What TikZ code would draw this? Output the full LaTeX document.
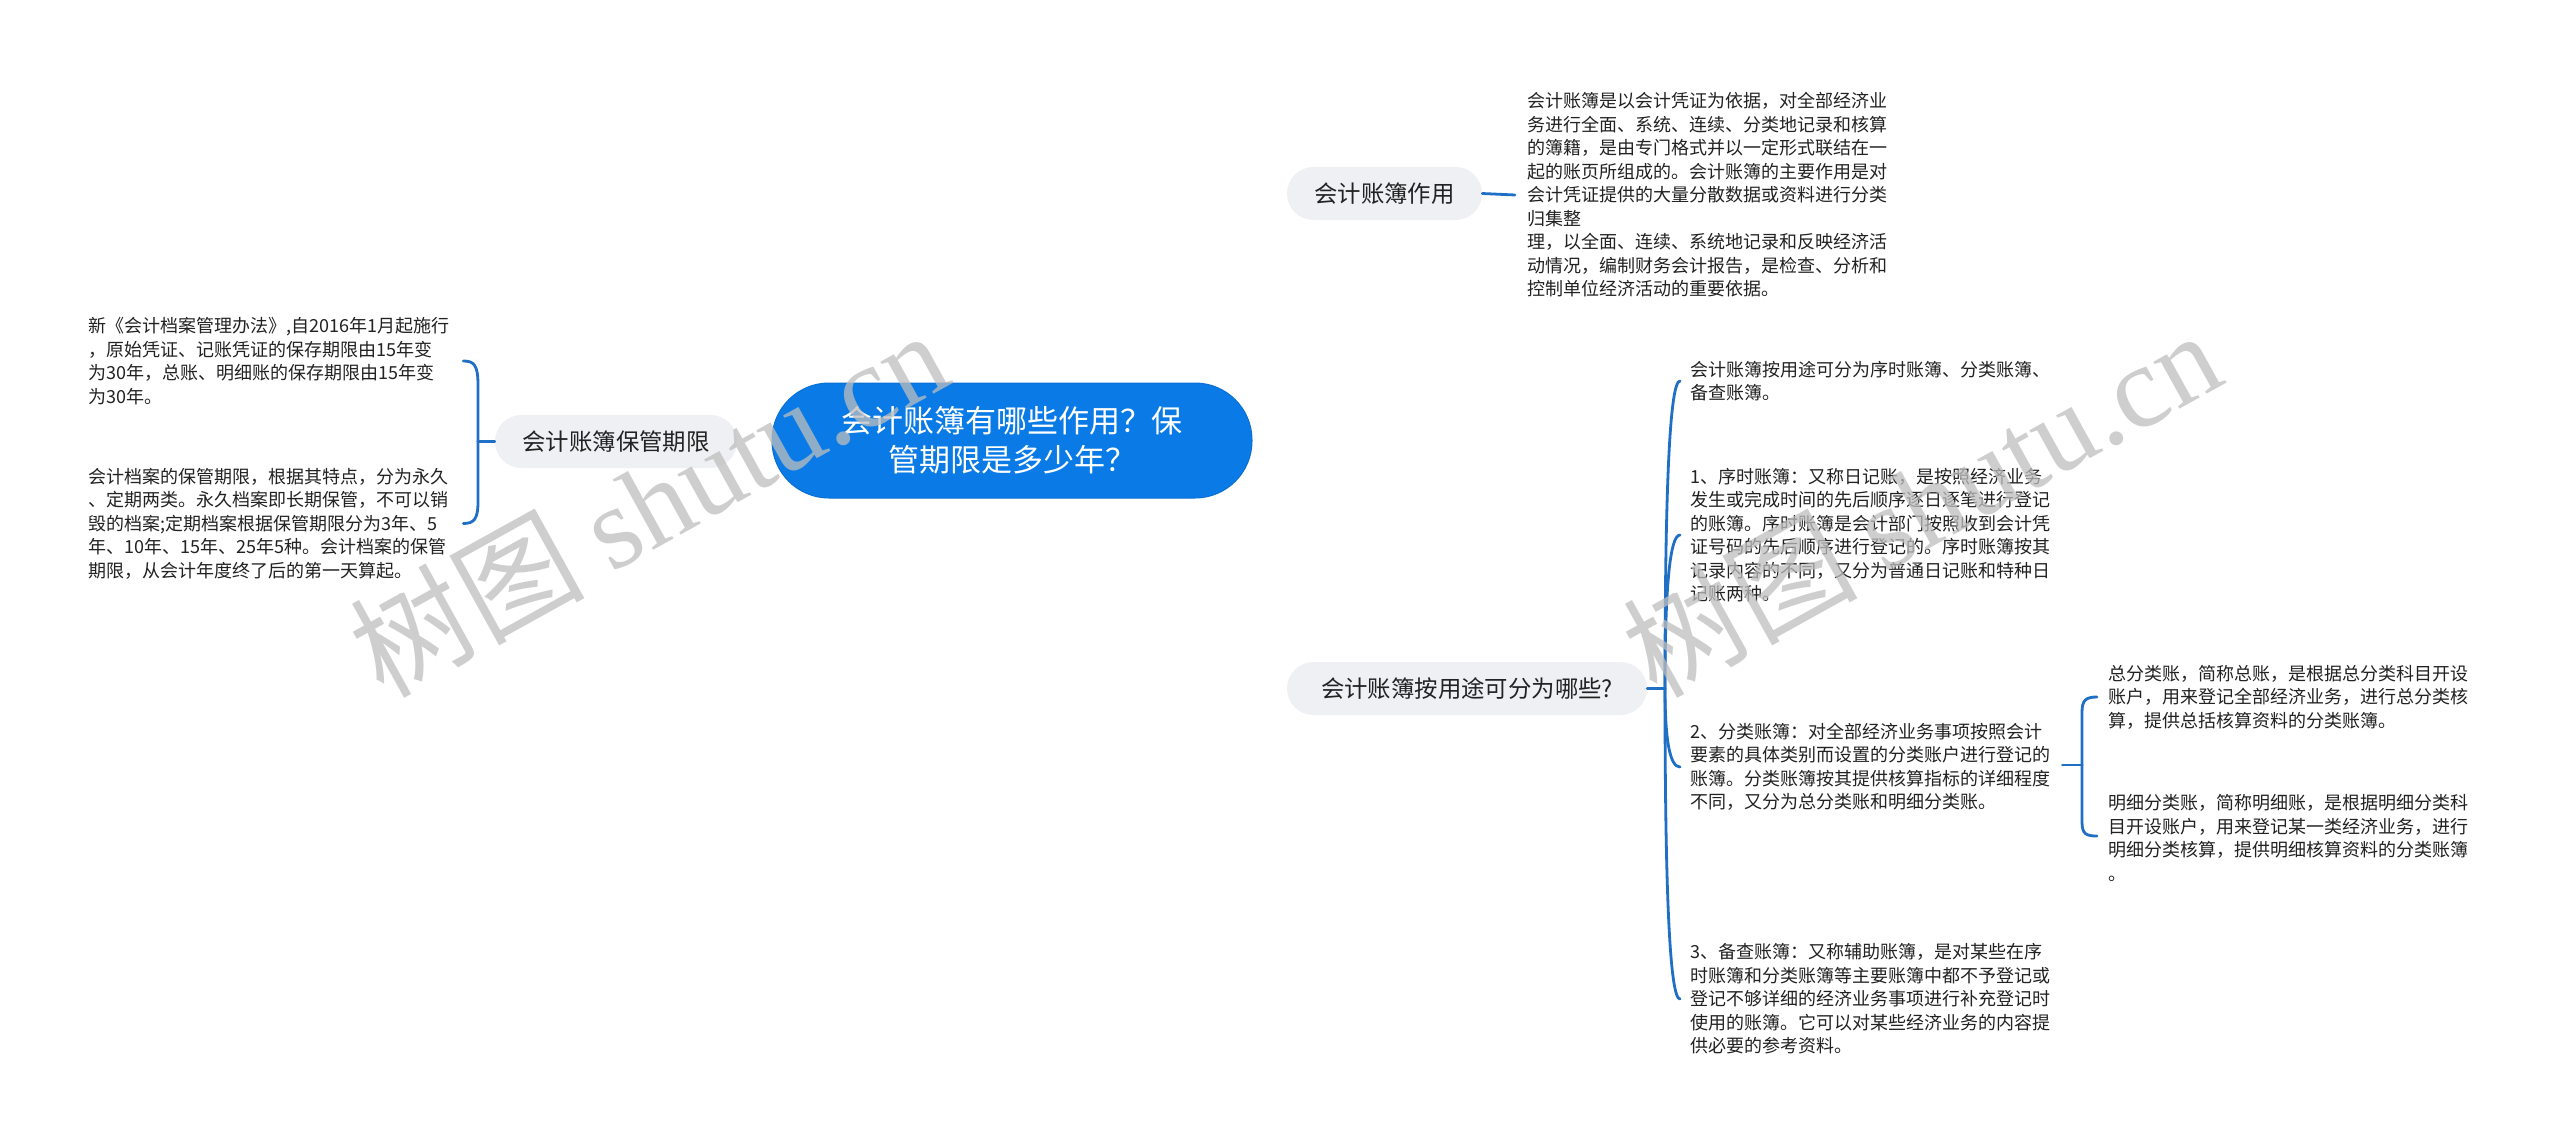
\documentclass[tikz,border=0pt]{standalone}
\usepackage{fontspec}
\setmainfont{Noto Sans CJK SC}
\newfontfamily\wmfont{Liberation Serif}
\usetikzlibrary{backgrounds}
\definecolor{cblue}{HTML}{0A7BE6}
\definecolor{cblueb}{HTML}{0A6FD4}
\definecolor{cline}{HTML}{1F6FC5}
\definecolor{cgray}{HTML}{EEF0F4}
\definecolor{ctext}{HTML}{222222}
\definecolor{cwm}{HTML}{BEBEBE}
\tikzset{
  rootbox/.style={fill=cblue, draw=cblueb, line width=1pt, rounded corners=57pt,
    minimum width=480pt, minimum height=115pt, inner sep=0pt, align=center,
    text=white, font={\fontsize{31pt}{39pt}\selectfont}},
  topicbox/.style={fill=cgray, draw=none, rounded corners=26.5pt,
    minimum height=53pt, inner sep=0pt, text=ctext,
    font={\fontsize{23.4pt}{28pt}\selectfont}},
  leaf/.style={anchor=west, inner sep=0pt, align=left, text=ctext,
    font={\fontsize{18pt}{23.5pt}\selectfont}},
  conn/.style={draw=cline, line width=2.8pt, line cap=round, line join=round},
  wm/.style={text=cwm, opacity=0.75, font={\fontsize{117pt}{120pt}\selectfont}, inner sep=0pt}
}
\begin{document}
\begin{tikzpicture}[x=1pt,y=-1pt]
\useasboundingbox[fill=white] (0,0) rectangle (2560,1143);

% root and main topics
\node[rootbox] (c) at (1012,440.5) {会计账簿有哪些作用？保\\管期限是多少年？};
\node[topicbox, minimum width=195pt] (w1) at (1384.5,193.5) {会计账簿作用};
\node[topicbox, minimum width=360pt] (w2) at (1467,688.5) {会计账簿按用途可分为哪些?};
\node[topicbox, minimum width=242pt] (w3) at (616,441.5) {会计账簿保管期限};

% leaf texts
\node[leaf] (t1) at (1527,195) {会计账簿是以会计凭证为依据，对全部经济业\\务进行全面、系统、连续、分类地记录和核算\\的簿籍，是由专门格式并以一定形式联结在一\\起的账页所组成的。会计账簿的主要作用是对\\会计凭证提供的大量分散数据或资料进行分类\\归集整\\理，以全面、连续、系统地记录和反映经济活\\动情况，编制财务会计报告，是检查、分析和\\控制单位经济活动的重要依据。};

\node[leaf] (l1) at (88,361) {新《会计档案管理办法》,自2016年1月起施行\\，原始凭证、记账凭证的保存期限由15年变\\为30年，总账、明细账的保存期限由15年变\\为30年。};
\node[leaf] (l2) at (88,523.5) {会计档案的保管期限，根据其特点，分为永久\\、定期两类。永久档案即长期保管，不可以销\\毁的档案;定期档案根据保管期限分为3年、5\\年、10年、15年、25年5种。会计档案的保管\\期限，从会计年度终了后的第一天算起。};

\node[leaf] (r1) at (1690,381) {会计账簿按用途可分为序时账簿、分类账簿、\\备查账簿。};
\node[leaf] (r2) at (1690,535) {1、序时账簿：又称日记账，是按照经济业务\\发生或完成时间的先后顺序逐日逐笔进行登记\\的账簿。序时账簿是会计部门按照收到会计凭\\证号码的先后顺序进行登记的。序时账簿按其\\记录内容的不同，又分为普通日记账和特种日\\记账两种。};
\node[leaf] (r3) at (1690,767) {2、分类账簿：对全部经济业务事项按照会计\\要素的具体类别而设置的分类账户进行登记的\\账簿。分类账簿按其提供核算指标的详细程度\\不同，又分为总分类账和明细分类账。};
\node[leaf] (r4) at (1690,999) {3、备查账簿：又称辅助账簿，是对某些在序\\时账簿和分类账簿等主要账簿中都不予登记或\\登记不够详细的经济业务事项进行补充登记时\\使用的账簿。它可以对某些经济业务的内容提\\供必要的参考资料。};

\node[leaf] (s1) at (2108,697) {总分类账，简称总账，是根据总分类科目开设\\账户，用来登记全部经济业务，进行总分类核\\算，提供总括核算资料的分类账簿。};
\node[leaf] (s2) at (2108,838) {明细分类账，简称明细账，是根据明细分类科\\目开设账户，用来登记某一类经济业务，进行\\明细分类核算，提供明细核算资料的分类账簿\\。};

% junction coordinates
\coordinate (rb) at (1665,688.5);
\coordinate (lb) at (478,441.5);
\coordinate (sb) at (2082,765);

\begin{pgfonlayer}{background}
  % root to topics
  \draw[conn] (c.center) .. controls +(28,-190) and +(-167,0) .. (w1.west);
  \draw[conn] (c.center) .. controls +(28,190) and +(-167,0) .. (w2.west);
  \draw[conn] (c.center) -- (w3.east);
\end{pgfonlayer}

% topic 1 to its text
\draw[conn] (w1.east) -- ([xshift=-12pt]t1.west);

% topic 2 bracket
\draw[conn] (w2.east) -- (rb);
\draw[conn] (rb) .. controls +(0,-204.7) and +(-10,0) .. ([xshift=-10pt]r1.west);
\draw[conn] (rb) .. controls +(0,-102.3) and +(-10,0) .. ([xshift=-10pt]r2.west);
\draw[conn] (rb) .. controls +(0,52.3) and +(-10,0) .. ([xshift=-10pt]r3.west);
\draw[conn] (rb) .. controls +(0,207.0) and +(-10,0) .. ([xshift=-10pt]r4.west);

% sub bracket of r3
\draw[conn] ([xshift=12pt]r3.east |- sb) -- (sb);
\draw[conn] (sb) -- (2082,712) .. controls (2082,700) and (2086,697) .. ([xshift=-11pt]s1.west);
\draw[conn] (sb) -- (2082,822) .. controls (2082,834) and (2086,836) .. (2097,836);

% topic 3 bracket
\draw[conn] (w3.west) -- (lb);
\draw[conn] (lb) -- (478,385) .. controls (478,365) and (474,361) .. ([xshift=14pt]l1.east |- l1.west);
\draw[conn] (lb) -- (478,502) .. controls (478,519) and (474,523.5) .. ([xshift=14pt]l1.east |- l2.west);

% watermarks
\node[wm, rotate=29] (wm1) at (648,502) {树图 {\wmfont shutu.cn}};
\node[wm, rotate=29] (wm2) at (1921,502) {树图 {\wmfont shutu.cn}};
\end{tikzpicture}
\end{document}
